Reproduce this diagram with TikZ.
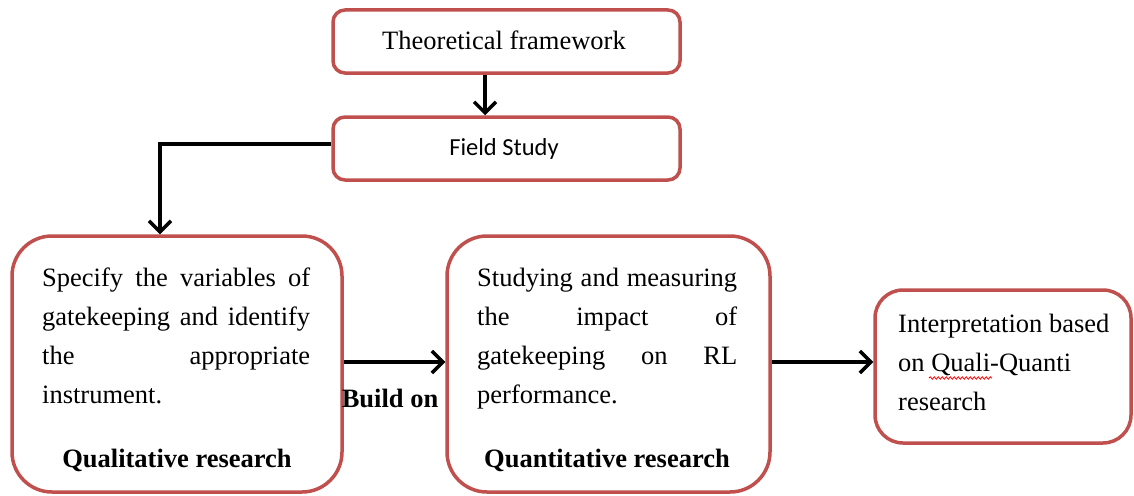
\documentclass[tikz,border=0pt]{standalone}
\usepackage{fontspec}
\setmainfont{Liberation Serif}
\newfontfamily\labelsans{Carlito}
\usetikzlibrary{arrows.meta,decorations.pathmorphing}
\definecolor{boxred}{RGB}{192,80,77}
% a line of text spread to the full given width
\newcommand{\spreadline}[2]{\makebox[#1][s]{#2}}
\begin{document}
\begin{tikzpicture}[x=1pt,y=1pt,
  stagebox/.style={draw=boxred,line width=3.5pt,fill=white,inner sep=0pt},
  smallbox/.style={stagebox,rounded corners=12pt,minimum width=347pt,minimum height=63pt},
  bigbox/.style={stagebox,rounded corners=40pt,minimum height=256pt},
  body/.style={font=\fontsize{26.5}{38.7}\selectfont,inner sep=0pt,align=left},
  flow/.style={line width=3.5pt,-{Straight Barb[length=11pt,width=22pt]}},
]
\useasboundingbox (0,0) rectangle (1134,-495);

% boxes
\node[smallbox] (tf) at (506.5,-41.5) {};
\node[smallbox] (fs) at (506.5,-148.5) {};
\node[bigbox,minimum width=330pt] (qual) at (177,-364) {};
\node[bigbox,minimum width=323pt] (quant) at (608.5,-364) {};
\node[stagebox,rounded corners=28pt,minimum width=256pt,minimum height=153pt] (interp) at (1003,-366.5) {};

% box texts (multi-line blocks are placed by the baseline of their last line)
\node[body,anchor=base] (tftext) at (504,-50) {Theoretical framework};
\node[font=\labelsans\fontsize{24.5}{28}\selectfont,inner sep=0pt,anchor=base] (fstext) at (504,-155) {Field Study};
\node[body,anchor=base west] (qualtext) at (42,-403) {%
  \spreadline{268pt}{Specify the variables of}\\
  \spreadline{268pt}{gatekeeping and identify}\\
  \spreadline{268pt}{the appropriate}\\
  instrument.};
\node[body,anchor=base,font=\fontsize{26.5}{38.7}\selectfont\bfseries] (qualtitle) at (177,-467) {Qualitative research};
\node[body,anchor=base west] (quanttext) at (477,-403) {%
  \spreadline{260pt}{Studying and measuring}\\
  \spreadline{260pt}{the impact of}\\
  \spreadline{260pt}{gatekeeping on RL}\\
  performance.};
\node[body,anchor=base,font=\fontsize{26.5}{38.7}\selectfont\bfseries] (quanttitle) at (607,-467) {Quantitative research};
\node[body,anchor=base west] (interptext) at (898,-410) {%
  Interpretation based\\
  on Quali-Quanti\\
  research};
\draw[red,line width=0.8pt,decorate,decoration={snake,amplitude=1.2pt,segment length=4pt}]
  (929,-378) -- (992,-378);

% label on the link between the two research stages
\node[body,anchor=base,font=\fontsize{26.5}{38.7}\selectfont\bfseries] (buildon) at (390,-407) {Build on};

% connectors
\coordinate (drop) at (485,0);
\coordinate (turn) at (160,-144);
\coordinate (link) at (0,-362);
\draw[flow] (tf.south -| drop) -- (fs.north -| drop);
\draw[flow] (fs.west |- turn) -- (turn) -- (turn |- qual.north);
\draw[flow] (qual.east |- link) -- (quant.west |- link);
\draw[flow] (quant.east |- link) -- (interp.west |- link);
\end{tikzpicture}
\end{document}
